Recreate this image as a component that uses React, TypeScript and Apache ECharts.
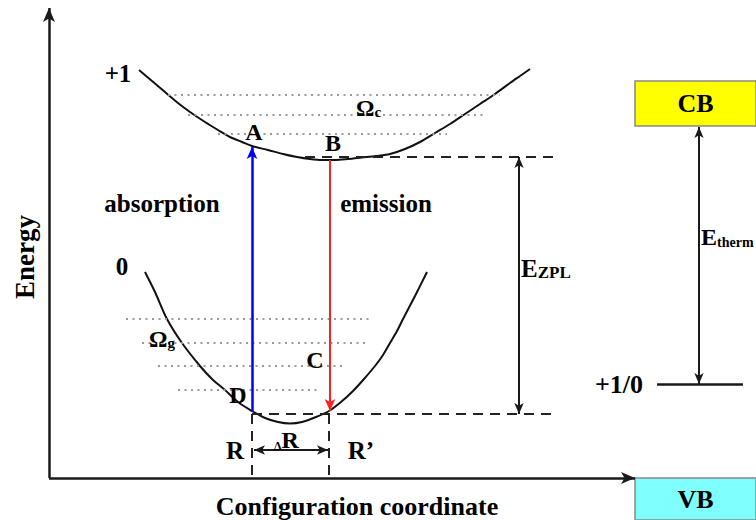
import React, { useEffect, useRef } from 'react';
import * as echarts from 'echarts';

// Potential-energy curves: [configuration coordinate, energy] (energy axis runs downward in page units)
const upperCurve: number[][] = [
  [139, 70], [152, 81], [165, 92], [178, 103], [190, 112], [205, 122], [218, 130], [230, 137],
  [242, 142], [252, 146], [268, 150], [283, 154], [297, 157], [310, 159], [322, 160], [335, 160],
  [348, 159], [362, 157.5], [376, 156], [390, 154], [405, 149], [420, 142], [435, 133], [450, 124],
  [465, 114], [480, 104], [495, 94], [510, 83], [520, 76], [530, 69],
];
const lowerCurve: number[][] = [
  [145, 272], [155, 292], [167, 319], [182, 343], [200, 366], [212, 379], [225, 390], [238, 402],
  [252, 411], [265, 418], [278, 422], [290, 423.5], [302, 422], [316, 417], [329, 411], [341, 402],
  [353, 391], [364, 379], [375, 366], [383, 355], [390, 343], [397, 331], [403, 319], [415, 296],
  [427, 272],
];
// Vibrational levels: [start, end, energy]
const upperLevels: number[][] = [[168, 500, 95], [188, 483, 115], [218, 447, 134]];
const lowerLevels: number[][] = [[126, 373, 319], [142, 365, 343], [158, 345, 366], [178, 320, 390]];
// Key coordinates
const R = 252;
const Rprime = 329;
const axisOrigin = [49, 478];
const yAxisTop = 8;
const xAxisEnd = 635;
const absorptionFrom = [252, 412];
const absorptionTo = [252, 147];
const emissionFrom = [330, 160];
const emissionTo = [330, 411];
const excitedMin = 157;
const groundMin = 414;
const dashEnd = 557;
const ezplX = 519;
const ethermX = 699;
const cbBottom = 127;
const transitionLevel = 384;
const transitionLevelSpan = [657, 743];
const deltaRY = 450;
const cbBox = [635, 81, 756, 126];
const vbBox = [635, 478, 756, 520];

const FF = 'Times New Roman, Liberation Serif, serif';

export default function App() {
  const ref = useRef<HTMLDivElement>(null);
  useEffect(() => {
    if (!ref.current) return;
    const chart = echarts.init(ref.current, undefined, { renderer: 'svg' });

    const dark = '#1a1a1a';
    const seg = (a: number[], b: number[], style: any, startSym = 'none', endSym = 'none', size: any = [8, 12]) => [
      { coord: a, symbol: startSym, symbolSize: size, lineStyle: style },
      { coord: b, symbol: endSym, symbolSize: size, lineStyle: style },
    ];
    const solid = (c: string, w: number) => ({ color: c, width: w, type: 'solid' });
    const dashed = { color: '#222', width: 2, type: [10, 7] };
    const dotted = { color: '#999', width: 2, type: [2, 4.5] };

    const lines: any[] = [
      seg(axisOrigin, [axisOrigin[0], yAxisTop], solid(dark, 2.5), 'none', 'arrow', [9, 14]),
      seg(axisOrigin, [xAxisEnd, axisOrigin[1]], solid(dark, 2.5), 'none', 'arrow', [9, 14]),
      ...upperLevels.map((l) => seg([l[0], l[2]], [l[1], l[2]], dotted)),
      ...lowerLevels.map((l) => seg([l[0], l[2]], [l[1], l[2]], dotted)),
      seg([305, excitedMin], [dashEnd, excitedMin], dashed),
      seg([R, groundMin], [dashEnd, groundMin], dashed),
      seg([R, groundMin], [R, axisOrigin[1]], dashed),
      seg([Rprime, groundMin], [Rprime, axisOrigin[1]], dashed),
      seg(absorptionFrom, absorptionTo, solid('#0000ff', 2.5), 'none', 'arrow', [8, 12]),
      seg(emissionFrom, emissionTo, solid('#ff2020', 2), 'none', 'arrow', [8, 12]),
      seg([ezplX, excitedMin], [ezplX, groundMin], solid(dark, 2), 'arrow', 'arrow', [7, 11]),
      seg([ethermX, cbBottom], [ethermX, transitionLevel], solid(dark, 2), 'arrow', 'arrow', [7, 11]),
      seg([R + 2, deltaRY], [Rprime - 1, deltaRY], solid(dark, 2), 'arrow', 'arrow', [7, 11]),
      seg([transitionLevelSpan[0], transitionLevel], [transitionLevelSpan[1], transitionLevel], solid(dark, 2.5)),
    ];

    const boxLabel = { show: true, position: 'inside', fontFamily: FF, fontWeight: 'bold', fontSize: 26, color: '#000' };

    const txt = (x: number, y: number, text: string, size = 24, extra: any = {}) => ({
      type: 'text', x, y, z: 100,
      style: {
        text, font: `bold ${size}px ${FF}`, fontFamily: FF, fontWeight: 'bold', fontSize: size, fill: '#000',
        align: 'center', verticalAlign: 'middle', textAlign: 'center', textVerticalAlign: 'middle', ...extra,
      },
    });
    const richTxt = (x: number, y: number, text: string, rich: any) => ({
      type: 'text', x, y, z: 100,
      style: { text, rich, fontFamily: FF, fontWeight: 'bold', fill: '#000', align: 'left', verticalAlign: 'middle', textAlign: 'left', textVerticalAlign: 'middle' },
    });
    const tok = (size: number, pad = 0) => ({ fontFamily: FF, fontWeight: 'bold', fontSize: size, fill: '#000', color: '#000', padding: [pad, 0, 0, 0], verticalAlign: 'bottom' });

    chart.setOption({
      animation: false,
      backgroundColor: '#fff',
      textStyle: { fontFamily: FF },
      grid: { left: 0, right: 0, top: 0, bottom: 0 },
      xAxis: { type: 'value', min: 0, max: 756, show: false },
      yAxis: { type: 'value', min: 0, max: 520, inverse: true, show: false },
      series: [
        {
          type: 'line', data: upperCurve, smooth: 0.3, symbol: 'none', silent: true, z: 3,
          lineStyle: { color: '#111', width: 2 },
          markLine: { silent: true, animation: false, label: { show: false }, data: lines },
          markArea: {
            silent: true, animation: false,
            data: [
              [{ name: 'CB', coord: [cbBox[0], cbBox[1]], itemStyle: { color: '#ffff00', borderColor: '#888', borderWidth: 1.5 }, label: boxLabel },
               { coord: [cbBox[2] + 2, cbBox[3]] }],
              [{ name: 'VB', coord: [vbBox[0], vbBox[1]], itemStyle: { color: '#80ffff', borderColor: '#888', borderWidth: 1.5 }, label: boxLabel },
               { coord: [vbBox[2] + 2, vbBox[3] + 2] }],
            ],
          },
        },
        {
          type: 'line', data: lowerCurve, smooth: 0.3, symbol: 'none', silent: true, z: 3,
          lineStyle: { color: '#111', width: 2 },
        },
      ],
      graphic: [
        txt(118, 73, '+1', 25),
        txt(122, 266, '0', 25),
        txt(254, 132, 'A', 24),
        txt(333, 143, 'B', 24),
        txt(315, 360, 'C', 24),
        txt(238, 395, 'D', 24),
        txt(162, 203, 'absorption', 25),
        txt(386, 203, 'emission', 25),
        txt(619, 384, '+1/0', 26),
        txt(235, 450, 'R', 25),
        txt(361, 450, 'R\u2019', 25),
        richTxt(274, 440, '{s|\u0394}{b|R}', { s: tok(12), b: tok(24) }),
        richTxt(356, 108, '{b|\u03A9}{s|c}', { b: tok(23), s: tok(15, 6) }),
        richTxt(149, 339, '{b|\u03A9}{s|g}', { b: tok(23), s: tok(15, 6) }),
        richTxt(521, 268, '{b|E}{s|ZPL}', { b: tok(25), s: tok(17) }),
        richTxt(701, 237, '{b|E}{s|therm}', { b: tok(24), s: tok(14) }),
        { ...txt(25, 257, 'Energy', 27), rotation: Math.PI / 2 },
        txt(357, 506, 'Configuration coordinate', 26),
      ],
    });
    return () => chart.dispose();
  }, []);
  return <div ref={ref} style={{ position: 'fixed', left: 0, top: 0, width: 756, height: 520 }} />;
}
